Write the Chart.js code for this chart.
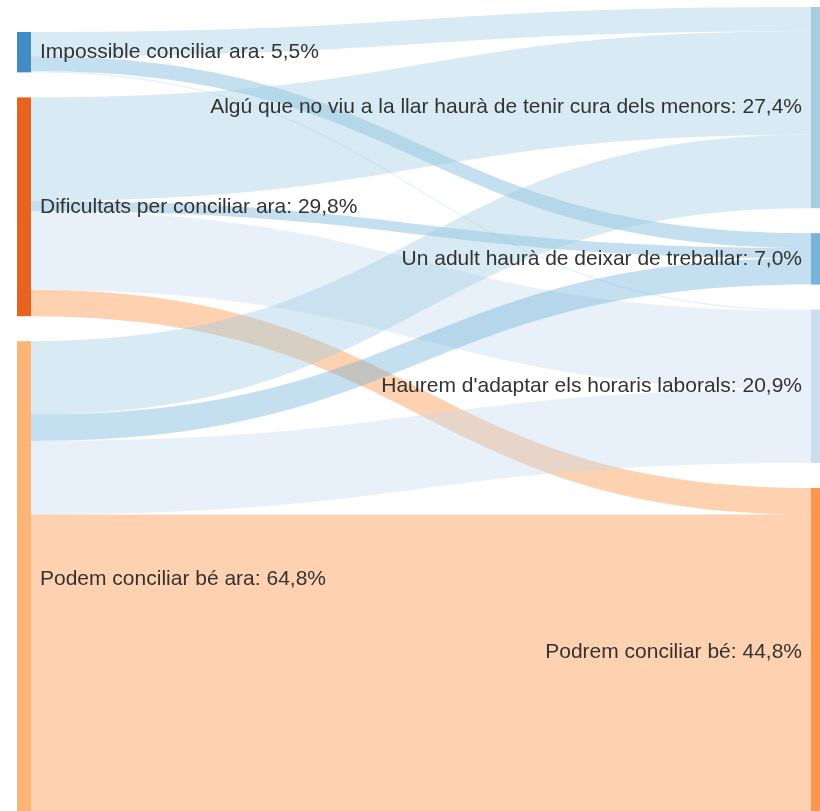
<!DOCTYPE html>
<html>
<head>
<meta charset="utf-8">
<script src="https://cdn.jsdelivr.net/npm/chart.js@4.4.0/dist/chart.umd.min.js"></script>
<style>
  body { margin: 0; background: #fff; }
  #wrap { width: 820px; height: 811px; position: relative; }
</style>
</head>
<body>
<div id="wrap"><canvas id="grafic"></canvas></div>
<script>
// nodes (left = situació actual, right = situació futura)
const nodesEsquerra = ['Impossible conciliar ara', 'Dificultats per conciliar ara', 'Podem conciliar bé ara'];
const valorsEsquerra = [5.5, 29.8, 64.8];
const colorsEsquerra = ['#3182bd', '#e6550d', '#fdae6b'];

const nodesDreta = [
    'Algú que no viu a la llar haurà de tenir cura dels menors',
    'Un adult haurà de deixar de treballar',
    "Haurem d'adaptar els horaris laborals",
    'Podrem conciliar bé'
];
const valorsDreta = [27.4, 7.0, 20.9, 44.8];
const colorsDreta = ['#9ecae1', '#6baed6', '#c6dbef', '#fd8d3c'];

// flows: index of left node -> index of right node
const fluxOrigen = [0, 0, 0, 1, 1, 1, 1, 2, 2, 2, 2];
const fluxDesti  = [0, 1, 2, 0, 1, 2, 3, 0, 1, 2, 3];
const fluxValors = [3.3, 2.0, 0.2, 14.1, 1.4, 10.7, 3.6, 10.0, 3.6, 10.0, 41.2];

const GAP = 25;       // px between nodes
const NODE_W = 14;    // px
const fmt = v => v.toFixed(1).replace('.', ',') + '%';

function hexRgba(hex, a) {
    const n = parseInt(hex.slice(1), 16);
    return `rgba(${(n >> 16) & 255},${(n >> 8) & 255},${n & 255},${a})`;
}

// lay out one column with the y scale, bottom-aligned like the original
function columna(valors, yScale, extentMax) {
    const k = yScale.getPixelForValue(1) - yScale.getPixelForValue(0);
    const total = valors.reduce((a, b) => a + b, 0);
    const extent = total * k + (valors.length - 1) * GAP;
    let y = yScale.getPixelForValue(0) + (extentMax - extent);
    return valors.map(v => {
        const n = { top: y, bottom: y + v * k };
        y = n.bottom + GAP;
        return n;
    });
}

const sankeyPlugin = {
    id: 'sankey',
    afterDatasetsDraw(chart) {
        const ctx = chart.ctx;
        const xs = chart.scales.x;
        const ys = chart.scales.y;
        const k = ys.getPixelForValue(1) - ys.getPixelForValue(0);
        const ext = vals => vals.reduce((a, b) => a + b, 0) * k + (vals.length - 1) * GAP;
        const extentMax = Math.max(ext(valorsEsquerra), ext(valorsDreta));
        const esq = columna(valorsEsquerra, ys, extentMax);
        const dre = columna(valorsDreta, ys, extentMax);
        const x0 = xs.getPixelForValue(0);
        const x1 = xs.getPixelForValue(1);
        const xm = (x0 + x1) / 2;

        // flows
        const curEsq = esq.map(n => n.top);
        const curDre = dre.map(n => n.top);
        fluxValors.forEach((v, i) => {
            const s = fluxOrigen[i], t = fluxDesti[i];
            const h = v * k;
            const a0 = curEsq[s], a1 = a0 + h;
            const b0 = curDre[t], b1 = b0 + h;
            curEsq[s] = a1;
            curDre[t] = b1;
            ctx.beginPath();
            ctx.moveTo(x0, a0);
            ctx.bezierCurveTo(xm, a0, xm, b0, x1, b0);
            ctx.lineTo(x1, b1);
            ctx.bezierCurveTo(xm, b1, xm, a1, x0, a1);
            ctx.closePath();
            ctx.fillStyle = hexRgba(colorsDreta[t], 0.4);
            ctx.fill();
        });

        // nodes
        esq.forEach((n, i) => {
            ctx.fillStyle = hexRgba(colorsEsquerra[i], 0.92);
            ctx.fillRect(x0 - NODE_W, n.top, NODE_W, n.bottom - n.top);
        });
        dre.forEach((n, i) => {
            ctx.fillStyle = hexRgba(colorsDreta[i], 0.92);
            ctx.fillRect(x1, n.top, NODE_W, n.bottom - n.top);
        });

        // labels
        ctx.font = '21px "Liberation Sans", Arial, sans-serif';
        ctx.fillStyle = '#333';
        ctx.textBaseline = 'middle';
        ctx.textAlign = 'left';
        esq.forEach((n, i) => {
            ctx.fillText(nodesEsquerra[i] + ': ' + fmt(valorsEsquerra[i]), x0 + 9, (n.top + n.bottom) / 2);
        });
        ctx.textAlign = 'right';
        dre.forEach((n, i) => {
            ctx.fillText(nodesDreta[i] + ': ' + fmt(valorsDreta[i]), x1 - 9, (n.top + n.bottom) / 2);
        });
    }
};

new Chart(document.getElementById('grafic'), {
    type: 'scatter',
    data: { datasets: [{ data: [], showLine: false }] },
    options: {
        responsive: true,
        maintainAspectRatio: false,
        animation: false,
        layout: { padding: { left: 31, right: 9, top: 7, bottom: 0 } },
        scales: {
            x: { type: 'linear', min: 0, max: 1, display: false },
            y: { type: 'linear', min: 0, max: 109.5, reverse: true, display: false }
        },
        plugins: {
            legend: { display: false },
            tooltip: { enabled: false }
        }
    },
    plugins: [sankeyPlugin]
});
</script>
</body>
</html>
